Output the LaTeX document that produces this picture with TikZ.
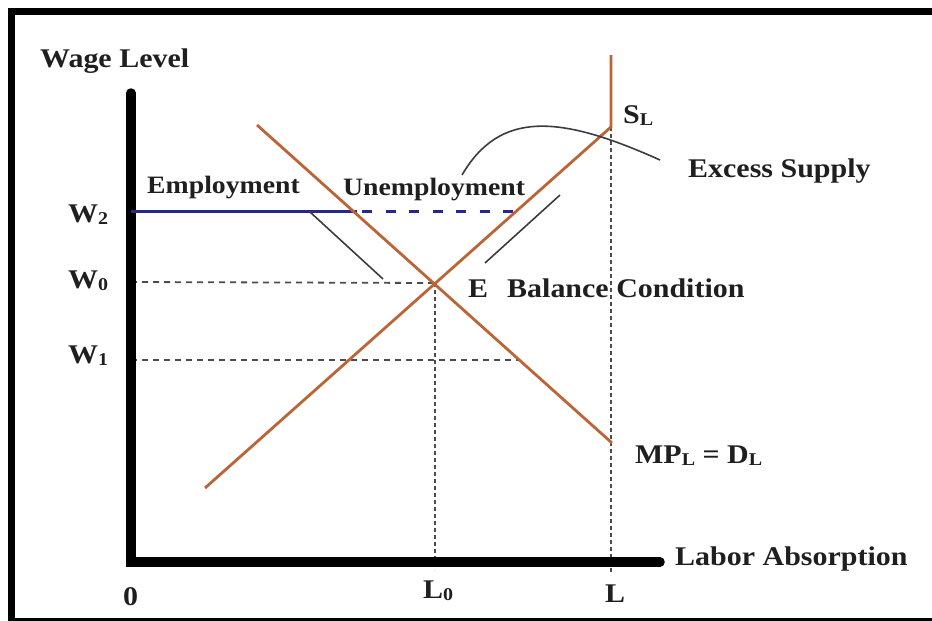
\documentclass[tikz,border=0pt]{standalone}
\usepackage{fontspec}
\newfontfamily\lab{Liberation Serif}[FakeStretch=1.11]
\definecolor{curve}{RGB}{188,100,52}
\definecolor{navy}{RGB}{40,40,140}
\definecolor{pointer}{RGB}{60,60,60}
\newcommand\subl[1]{\raisebox{-2.5pt}{\fontsize{18}{18}\selectfont #1}}
\tikzset{
  lbl/.style={inner sep=0pt, anchor=base west, font=\lab\bfseries\fontsize{27}{30}\selectfont, text=black!88},
  lblsmall/.style={lbl, font=\lab\bfseries\fontsize{25}{28}\selectfont},
  axisline/.style={line width=9.5pt, line cap=round},
  econ/.style={draw=curve, line width=2.8pt},
  guide/.style={line width=1.8pt, dash pattern=on 6pt off 5pt, black!70},
  vguide/.style={line width=1.8pt, dash pattern=on 4pt off 3pt, black!70},
  ptr/.style={draw=pointer, line width=1.6pt}
}
\begin{document}
\begin{tikzpicture}[x=1pt,y=-1pt]
\useasboundingbox (0,0) rectangle (932,621);
% frame
\draw[line width=7pt] (11.5,621) -- (11.5,11.5) -- (940,11.5);
\draw[line width=4pt] (8,619.5) -- (940,619.5);

% key coordinates
\coordinate (O) at (131,562);
\coordinate (ytop) at (131,93);
\coordinate (xend) at (660,562);
\coordinate (E) at (435,283);
\coordinate (dtop) at (257,125);
\coordinate (dbot) at (612,443);
\coordinate (sbot) at (205,488);
\coordinate (skink) at (611,127);
\coordinate (stop) at (611,55);
\coordinate (w2a) at (131,211);
\coordinate (w2b) at (357,211);
\coordinate (w2c) at (362,211);
\coordinate (w2d) at (516,211);
\coordinate (w0a) at (131,282);
\coordinate (w1a) at (131,360);
\coordinate (w1b) at (518,360);
\coordinate (l0b) at (435,570);
\coordinate (lb) at (611,575);

% guides
\draw[guide] (w0a) -- (E);
\draw[guide] (w1a) -- (w1b);
\draw[vguide] (E) -- (l0b);
\draw[vguide] (skink) -- (lb);

% axes
\draw[axisline] (ytop) -- (O) -- (xend);

% employment line
\draw[navy, line width=3pt] (w2a) -- (w2b);
\draw[navy, line width=3pt, dash pattern=on 10pt off 13.5pt] (w2c) -- (w2d);

% curves
\draw[econ] (dtop) -- (dbot);
\draw[econ, line join=miter] (sbot) -- (skink) -- (stop);

% pointers
\coordinate (p1a) at (310,212);
\coordinate (p1b) at (383,279);
\coordinate (p2a) at (485,263);
\coordinate (p2b) at (560,195);
\coordinate (p3a) at (462,175);
\coordinate (p3b) at (660,160);
\draw[ptr] (p1a) -- (p1b);
\draw[ptr] (p2a) -- (p2b);
\draw[ptr] (p3a) .. controls (500,110) and (560,115) .. (p3b);

% labels
\node[lbl] (wage) at (40,67) {Wage Level};
\node[lblsmall] (emp) at (147,193) {Employment};
\node[lblsmall] (unemp) at (343,195) {Unemployment};
\node[lbl] (excess) at (688,177) {Excess Supply};
\node[lbl] (SL) at (623,123) {S\subl{L}};
\node[lbl] (Elab) at (468,297) {E};
\node[lbl] (bal) at (507,297) {Balance Condition};
\node[lbl] (mpl) at (635,463) {MP\subl{L} = D\subl{L}};
\node[lbl] (labor) at (675,565) {Labor Absorption};
\node[lbl] (Llab) at (605,602) {L};
\node[lbl] (L0lab) at (423,598) {L\subl{0}};
\node[lbl] (zero) at (123,605) {0};
\node[lbl] (W2) at (68,222) {W\subl{2}};
\node[lbl] (W0) at (68,288) {W\subl{0}};
\node[lbl] (W1) at (68,363) {W\subl{1}};
\end{tikzpicture}
\end{document}
